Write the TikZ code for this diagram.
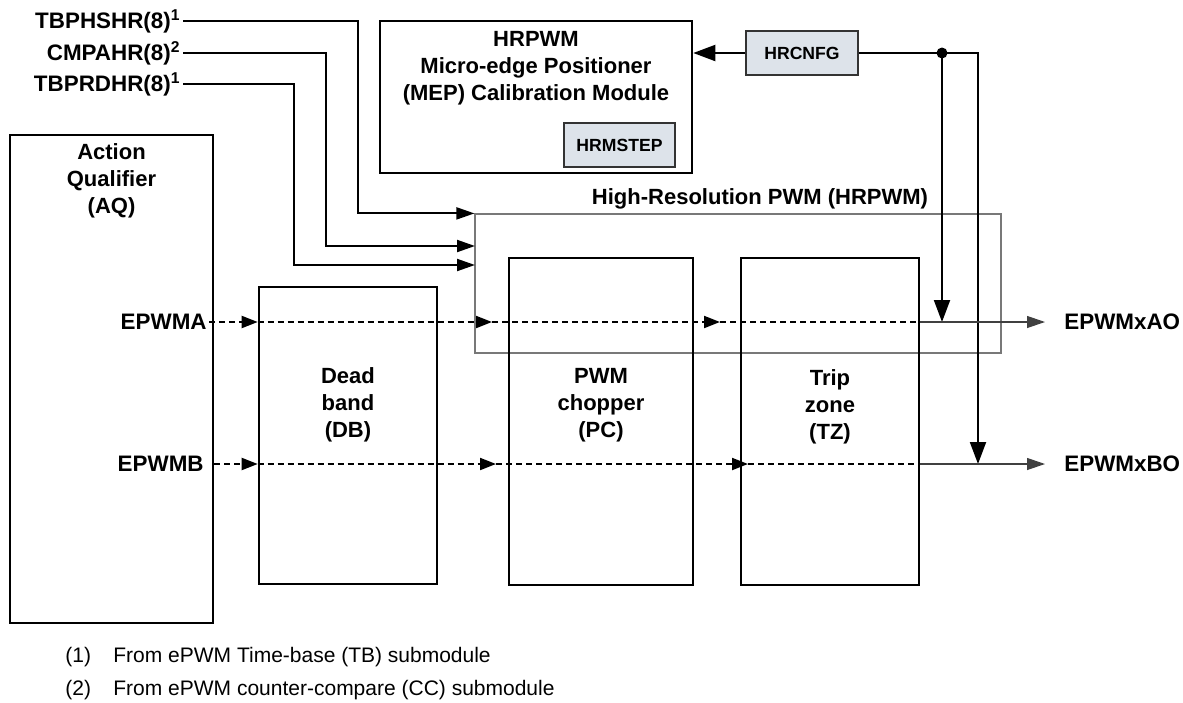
\documentclass[tikz,border=0pt]{standalone}
\usepackage{fontspec}
\setmainfont{Liberation Sans}
\usetikzlibrary{positioning, arrows.meta}
\definecolor{regfill}{RGB}{221,227,234}
\definecolor{hrgray}{RGB}{120,120,120}

\begin{document}
\begin{tikzpicture}[x=0.5pt,y=-0.5pt,
        blk/.style={draw,line width=1.3pt,inner sep=0pt},
        reg/.style={draw=black!80,line width=0.6pt,fill=regfill,inner sep=0pt,
                    font=\fontsize{8.8}{10}\selectfont\bfseries},
        lbl/.style={font=\fontsize{11}{13.5}\selectfont\bfseries,align=center},
        sig/.style={font=\fontsize{11.2}{13}\selectfont\bfseries,inner sep=1pt,
                    text height=0.72em,text depth=0pt},
        note/.style={font=\fontsize{10.5}{12}\selectfont,inner sep=0pt,anchor=west},
        arrow/.style={-{Triangle[length=9pt,width=6pt]},line width=1pt},
        bigarrow/.style={-{Triangle[length=11pt,width=8pt]},line width=1pt},
        dasharrow/.style={-{Triangle[length=8pt,width=6pt]},line width=1pt,
                          dash pattern=on 3pt off 2pt},
        dline/.style={line width=1pt,dash pattern=on 3pt off 2pt},
        outarrow/.style={-{Triangle[length=9pt,width=6pt]},line width=0.6pt,draw=black!75}]
    \useasboundingbox (0,0) rectangle (1183,702);

    \node[draw=hrgray,line width=0.6pt,minimum width=263pt,minimum height=69.5pt] (hr) at (738,283.5) {};
    \node[lbl,above=-1.5pt of hr.north,xshift=11pt] (hrlbl) {High-Resolution PWM (HRPWM)};

    \node[blk,minimum width=101.5pt,minimum height=244pt] (aq) at (111.5,379) {};
    \node[lbl] (aqtxt) at (111.5,181) {Action\\Qualifier\\(AQ)};
    \node[blk,minimum width=89pt,minimum height=148.5pt] (db) at (348,435.5) {};
    \node[lbl] (dbtxt) at (348,405) {Dead\\band\\(DB)};
    \node[blk,minimum width=92pt,minimum height=163.5pt] (pc) at (601,421.5) {};
    \node[lbl] (pctxt) at (601,405) {PWM\\chopper\\(PC)};
    \node[blk,minimum width=89pt,minimum height=163.5pt] (tz) at (830,421.5) {};
    \node[lbl] (tztxt) at (830,407) {Trip\\zone\\(TZ)};

    \node[blk,minimum width=156pt,minimum height=76pt] (mep) at (536,97) {};
    \node[lbl] (meptxt) at (536,68) {HRPWM\\Micro-edge Positioner\\(MEP) Calibration Module};
    \node[reg,minimum width=55.5pt,minimum height=22pt] (hrmstep) at (619.5,145) {HRMSTEP};
    \node[reg,minimum width=56pt,minimum height=22pt] (hrcnfg) at (802,53) {HRCNFG};
    \node[circle,fill,inner sep=0pt,minimum size=5.5pt] (dot) at (942,53) {};
    \coordinate (brk) at (978,53);

    \node[sig,anchor=east] (phs) at (183,21) {TBPHSHR(8)\textsuperscript{1}};
    \node[sig,anchor=east] (cmp) at (183,53) {CMPAHR(8)\textsuperscript{2}};
    \node[sig,anchor=east] (prd) at (183,84) {TBPRDHR(8)\textsuperscript{1}};
    \coordinate (in2) at (475,246);
    \coordinate (in3) at (475,265);

    \node[sig,anchor=east] (epwma) at (209,322) {EPWMA};
    \node[sig,anchor=east] (epwmb) at (206,464) {EPWMB};
    \node[sig,anchor=west,inner xsep=9.5pt] (aout) at (1045,322) {EPWMxAO};
    \node[sig,anchor=west,inner xsep=9.5pt] (bout) at (1045,464) {EPWMxBO};
    \coordinate (a1) at (492,322);
    \coordinate (a2) at (720,322);
    \coordinate (b1) at (496,464);
    \coordinate (b2) at (748,464);

    \draw[arrow] (phs.east) -| ([xshift=-58pt]hr.north west) -- (hr.north west);
    \draw[arrow] (cmp.east) -| ([xshift=-74.5pt]in2) -- (in2);
    \draw[arrow] (prd.east) -| ([xshift=-90.5pt]in3) -- (in3);

    \draw[bigarrow] (hrcnfg.west) -- (hrcnfg.west -| mep.east);
    \draw[bigarrow] (hrcnfg.east) -- (brk) -- (brk |- bout.west);
    \draw[bigarrow] (dot.center) -- (dot.center |- aout.west);

    \draw[dasharrow] (epwma.east) -- (epwma.east -| db.west);
    \draw[dasharrow] (epwma.east -| db.west) -- (a1);
    \draw[dasharrow] (a1) -- (a2);
    \draw[dline] (a2) -- (epwma.east -| tz.east);
    \draw[outarrow] (epwma.east -| tz.east) -- (aout.west);

    \draw[dasharrow] (epwmb.east -| aq.east) -- (epwmb.east -| db.west);
    \draw[dasharrow] (epwmb.east -| db.west) -- (b1);
    \draw[dasharrow] (b1) -- (b2);
    \draw[dline] (b2) -- (epwmb.east -| tz.east);
    \draw[outarrow] (epwmb.east -| tz.east) -- (bout.west);

    \node[note] (n1) at (65,657) {(1)};
    \node[note] (n1t) at (113,657) {From ePWM Time-base (TB) submodule};
    \node[note] (n2) at (65,690) {(2)};
    \node[note] (n2t) at (113,690) {From ePWM counter-compare (CC) submodule};
\end{tikzpicture}
\end{document}
